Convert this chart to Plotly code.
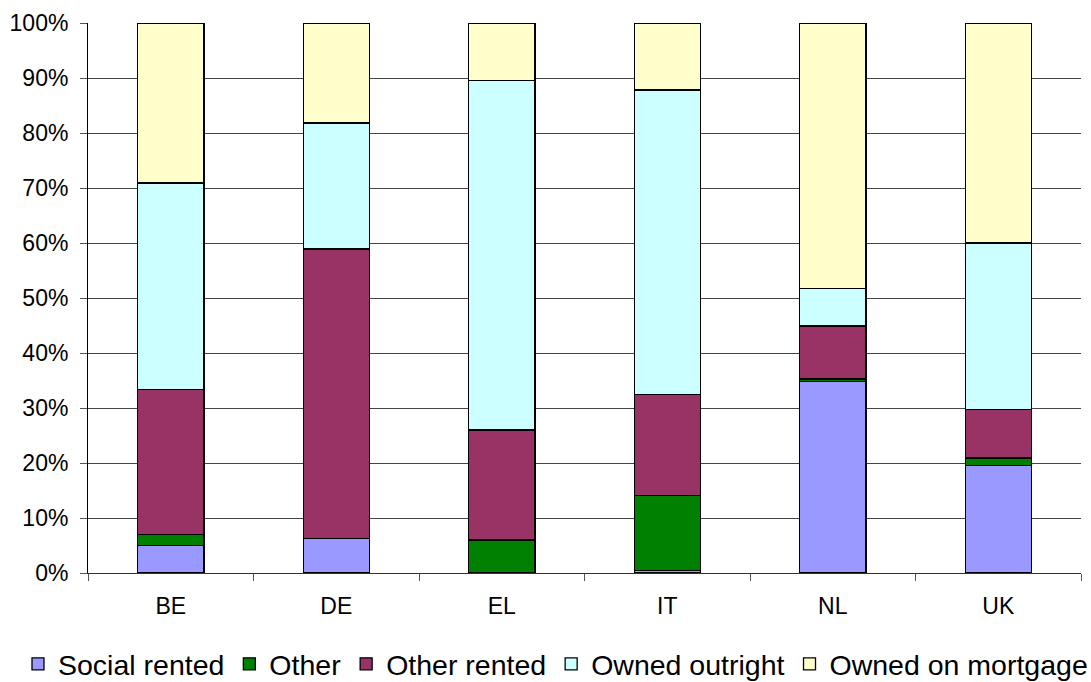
import plotly.graph_objects as go

countries = ["BE", "DE", "EL", "IT", "NL", "UK"]

# Tenure shares, percent of households
social_rented = [5.0, 6.3, 0.0, 0.5, 34.8, 19.5]
other = [2.0, 0.0, 6.0, 13.6, 0.5, 1.4]
other_rented = [26.4, 52.6, 20.0, 18.3, 9.6, 8.8]
owned_outright = [37.5, 22.9, 63.5, 55.4, 6.8, 30.3]
owned_on_mortgage = [29.1, 18.2, 10.5, 12.2, 48.3, 40.0]

series = [
    ("Social rented", social_rented, "#9999FF"),
    ("Other", other, "#008000"),
    ("Other rented", other_rented, "#993366"),
    ("Owned outright", owned_outright, "#CCFFFF"),
    ("Owned on mortgage", owned_on_mortgage, "#FFFFCC"),
]

fig = go.Figure()
for name, vals, color in series:
    fig.add_trace(go.Bar(
        x=countries, y=vals, name=name,
        marker=dict(color=color, line=dict(color="black", width=1.3)),
    ))

font_family = "Liberation Sans, Arial, sans-serif"

fig.update_layout(
    barmode="stack",
    bargap=0.6,
    width=1091, height=682,
    margin=dict(l=88, r=10, t=23, b=109, autoexpand=False),
    paper_bgcolor="white",
    plot_bgcolor="white",
    font=dict(family=font_family, size=23, color="black"),
    legend=dict(
        orientation="h", x=-0.0705, xanchor="left",
        y=-0.166, yanchor="middle",
        font=dict(size=28.5), traceorder="normal",
        itemwidth=30, tracegroupgap=0,
    ),
    xaxis=dict(
        tickson="boundaries", ticks="outside", ticklen=7,
        tickcolor="#555", showline=True, linecolor="#333",
        showgrid=False, tickfont=dict(size=23),
        ticklabelstandoff=12,
    ),
    yaxis=dict(
        range=[0, 100], dtick=10, ticksuffix="%",
        ticks="outside", ticklen=7, tickcolor="#555",
        showline=True, linecolor="black",
        showgrid=True, gridcolor="#444", gridwidth=1,
        tickfont=dict(size=23), zeroline=False,
        ticklabelstandoff=7,
    ),
)

fig.write_html("out.html")
